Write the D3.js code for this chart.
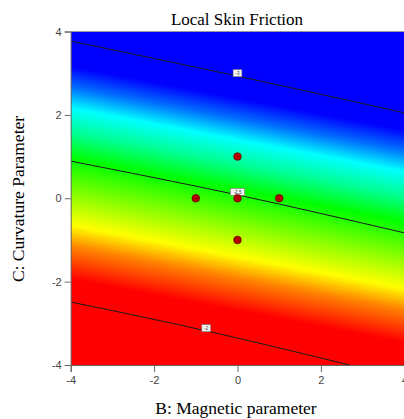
<!DOCTYPE html>
<html>
<head>
<meta charset="utf-8">
<script src="https://cdn.jsdelivr.net/npm/d3@7"></script>
<style>
  body { margin: 0; background: #fff; }
  .tick text { font-family: "Liberation Sans", Arial, sans-serif; font-size: 11px; fill: #444; }
  .tick line, .domain { stroke: #666; }
</style>
</head>
<body>
<div id="chart"></div>
<script>
// design points (B, C)
const pointsB = [0, -1, 0, 1, 0];
const pointsC = [1, 0, 0, 0, -1];

// contour lines, [B, C]
const contourLevels = ['-3', '-2.5', '-2'];
const contourLines = [
	[[-4, 3.77], [0, 2.93], [4, 2.05]],
	[[-4, 0.89], [0, 0.08], [4, -0.83]],
	[[-4, -2.49], [-1.38, -3.04], [2.69, -4]]
];
const labelB = [0, 0, -0.75];

// colour ramp, position measured across the contours (C + 0.19 B)
const rampSlope = 0.19;
const rampPos = [-3, -2.7, -1.93, -1.4, -0.6, 0.2, 0.8, 1.4, 1.9, 2.4, 3];
const rampColor = ['#ff0000', '#ff0000', '#ff8000', '#ffff00', '#80ff00', '#00ff00',
	'#00ff90', '#00ffff', '#0070ff', '#0000ff', '#0000ff'];

const tickVals = [-4, -2, 0, 2, 4];

const w = 404;
const h = 419;

const svg = d3.select('#chart').append('svg')
	.attr('width', w)
	.attr('height', h);

const x = d3.scaleLinear().domain([-4, 4]).range([70.7, 404.3]);
const y = d3.scaleLinear().domain([-4, 4]).range([365, 31.5]);

const defs = svg.append('defs');

defs.append('clipPath')
	.attr('id', 'plotClip')
	.append('rect')
	.attr('x', x(-4))
	.attr('y', y(4))
	.attr('width', x(4) - x(-4))
	.attr('height', y(-4) - y(4));

// gradient axis perpendicular to the contours
const nLen2 = rampSlope * rampSlope + 1;
const g0 = rampPos[0];
const g1 = rampPos[rampPos.length - 1];
const grad = defs.append('linearGradient')
	.attr('id', 'field')
	.attr('gradientUnits', 'userSpaceOnUse')
	.attr('x1', x(rampSlope * g0 / nLen2))
	.attr('y1', y(g0 / nLen2))
	.attr('x2', x(rampSlope * g1 / nLen2))
	.attr('y2', y(g1 / nLen2));

grad.selectAll('stop')
	.data(rampPos)
	.join('stop')
	.attr('offset', d => (d - g0) / (g1 - g0))
	.attr('stop-color', (d, i) => rampColor[i]);

const plot = svg.append('g').attr('clip-path', 'url(#plotClip)');

plot.append('rect')
	.attr('x', x(-4))
	.attr('y', y(4))
	.attr('width', x(4) - x(-4))
	.attr('height', y(-4) - y(4))
	.style('fill', 'url(#field)');

const line = d3.line()
	.x(d => x(d[0]))
	.y(d => y(d[1]))
	.curve(d3.curveMonotoneX);

plot.selectAll('.contour')
	.data(contourLines)
	.join('path')
	.attr('class', 'contour')
	.attr('d', line)
	.attr('fill', 'none')
	.attr('stroke', '#1a1a1a')
	.attr('stroke-width', 1);

// value on the line at a given B
const onLine = (pts, b) => {
	for (let i = 1; i < pts.length; i++) {
		if (b <= pts[i][0]) {
			const t = (b - pts[i - 1][0]) / (pts[i][0] - pts[i - 1][0]);
			return pts[i - 1][1] + t * (pts[i][1] - pts[i - 1][1]);
		}
	}
	return pts[pts.length - 1][1];
};

const labels = plot.selectAll('.clabel')
	.data(contourLevels)
	.join('g')
	.attr('class', 'clabel')
	.attr('transform', (d, i) => `translate(${x(labelB[i])},${y(onLine(contourLines[i], labelB[i])) - 3})`);

labels.append('rect')
	.attr('x', d => -(d.length * 1.4 + 1.6))
	.attr('y', -3.5)
	.attr('width', d => d.length * 2.8 + 3.2)
	.attr('height', 7)
	.attr('fill', '#f4f4f4')
	.attr('stroke', '#777')
	.attr('stroke-width', 0.6);

labels.append('text')
	.attr('text-anchor', 'middle')
	.attr('dy', 1.8)
	.style('font-family', '"Liberation Sans", Arial, sans-serif')
	.style('font-size', '4.5px')
	.style('fill', '#333')
	.text(d => d);

plot.selectAll('.pt')
	.data(pointsB)
	.join('circle')
	.attr('class', 'pt')
	.attr('cx', d => x(d))
	.attr('cy', (d, i) => y(pointsC[i]))
	.attr('r', 3.8)
	.attr('fill', '#b50000')
	.attr('stroke', '#6a0000')
	.attr('stroke-width', 0.8);

// top border
svg.append('line')
	.attr('x1', x(-4))
	.attr('x2', x(4))
	.attr('y1', y(4))
	.attr('y2', y(4))
	.attr('stroke', '#999')
	.attr('stroke-width', 1);

svg.append('g')
	.attr('transform', `translate(${x(-4)},0)`)
	.call(d3.axisLeft(y).tickValues(tickVals).tickFormat(d => String(d)).tickSize(6).tickPadding(3));

svg.append('g')
	.attr('transform', `translate(0,${y(-4)})`)
	.call(d3.axisBottom(x).tickValues(tickVals).tickFormat(d => String(d)).tickSize(7).tickPadding(4));

const serif = '"Liberation Serif", "Times New Roman", serif';

svg.append('text')
	.attr('x', 237)
	.attr('y', 25)
	.attr('text-anchor', 'middle')
	.style('font-family', serif)
	.style('font-size', '17px')
	.text('Local Skin Friction');

svg.append('text')
	.attr('x', 236)
	.attr('y', 414)
	.attr('text-anchor', 'middle')
	.style('font-family', serif)
	.style('font-size', '17.5px')
	.text('B: Magnetic parameter');

svg.append('text')
	.attr('transform', 'translate(24,199) rotate(-90)')
	.attr('text-anchor', 'middle')
	.style('font-family', serif)
	.style('font-size', '17.5px')
	.text('C: Curvature Parameter');
</script>
</body>
</html>
